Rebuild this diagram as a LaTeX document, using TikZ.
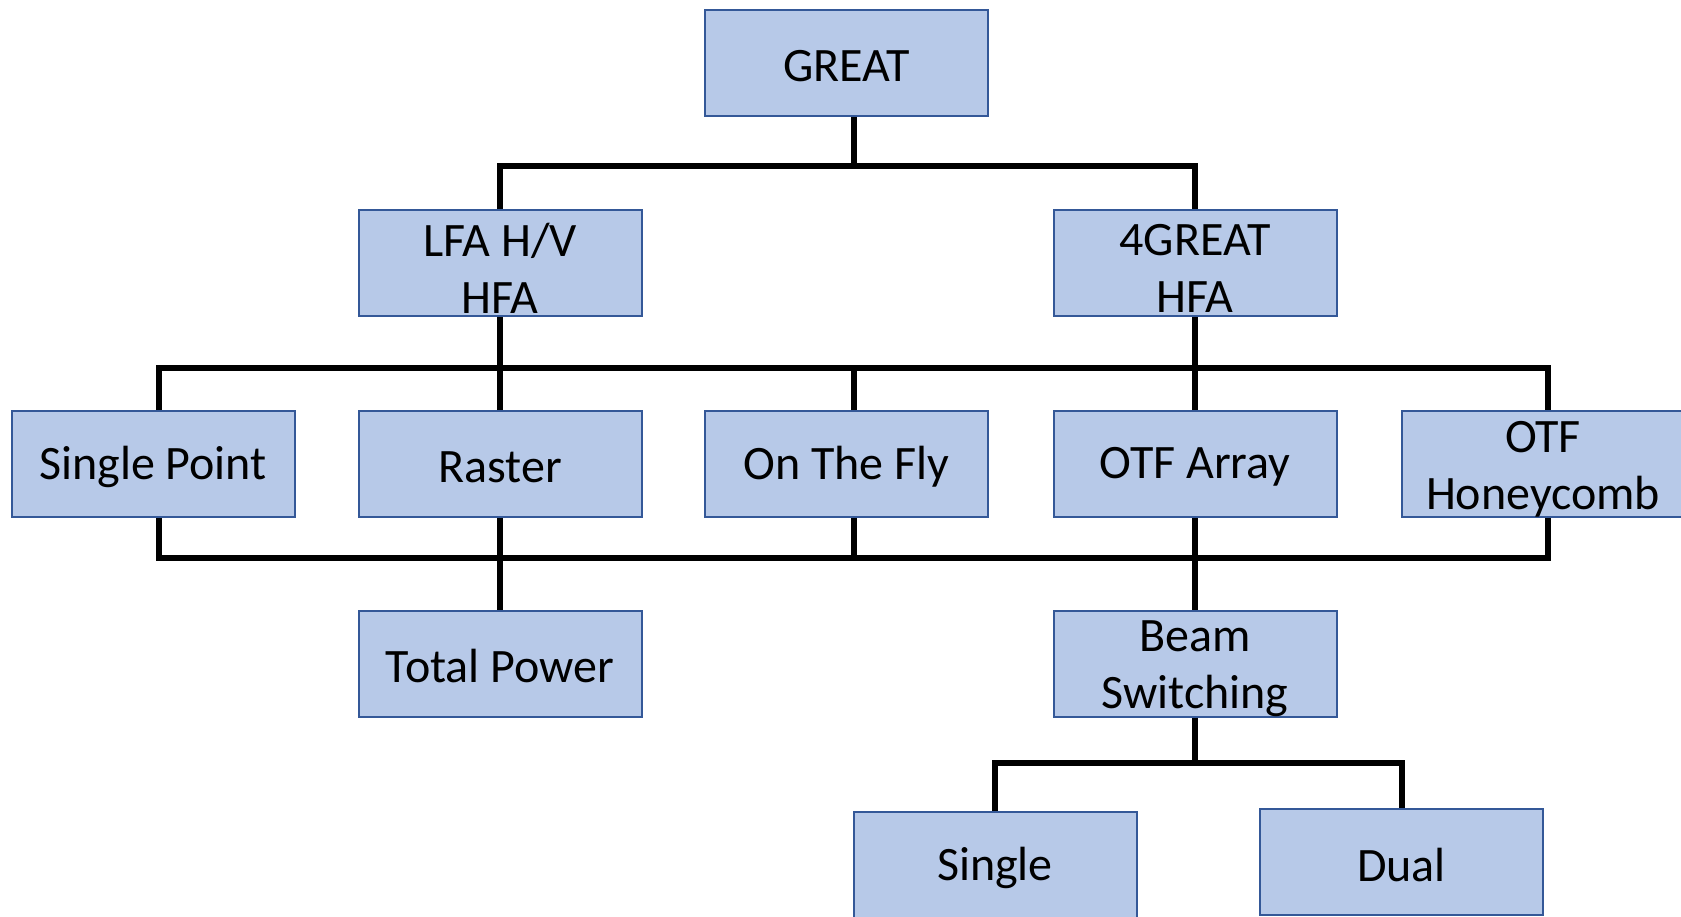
\documentclass[tikz,border=0pt]{standalone}
\usepackage{fontspec}
\setmainfont{Carlito}
\definecolor{boxfill}{RGB}{183,201,232}
\definecolor{boxline}{RGB}{52,88,152}
\tikzset{
  mybox/.style={draw=boxline, fill=boxfill, line width=2pt, minimum width=283pt, minimum height=106pt,
    inner sep=0pt},
  txt/.style={label={[font=\fontsize{48}{57}\selectfont, text=black, align=center, inner sep=0pt, yshift=-3pt]center:#1}},
  txttwo/.style={label={[font=\fontsize{48}{57}\selectfont, text=black, align=center, inner sep=0pt, yshift=-5.5pt]center:#1}},
  conn/.style={draw=black, line width=6pt}
}
\begin{document}
\begin{tikzpicture}[x=1pt,y=-1pt]
\useasboundingbox (0,0) rectangle (1681,916);
\clip (0,0) rectangle (1681,916);
% nodes
\node[mybox, txt={GREAT}] (great) at (846.5,63) {};
\node[mybox, txttwo={LFA H/V\\HFA}] (lfa) at (500,263) {};
\node[mybox, txttwo={4GREAT\\HFA}] (g4) at (1195,263) {};
\node[mybox, txt={Single Point}] (sp) at (153,464) {};
\node[mybox, txt={Raster}] (raster) at (500,464) {};
\node[mybox, txt={On The Fly}] (otf) at (846.5,464) {};
\node[mybox, txt={OTF Array}] (arr) at (1195,464) {};
\node[mybox, txttwo={OTF\\Honeycomb}] (hc) at (1543,464) {};
\node[mybox, txt={Total Power}] (tp) at (500,663.5) {};
\node[mybox, txttwo={Beam\\Switching}] (bs) at (1195,663.5) {};
\node[mybox, txt={Single}] (single) at (995,865) {};
\node[mybox, txt={Dual}] (dual) at (1401.5,862) {};
% bus coordinates
\coordinate (b1) at (854,166);
\coordinate (b2l) at (159,368);
\coordinate (b2m) at (853.5,368);
\coordinate (b2r) at (1548,368);
\coordinate (b3l) at (159,558);
\coordinate (b3m) at (853.5,558);
\coordinate (b3r) at (1548,558);
\coordinate (b4) at (1195,763);
% level 1
\draw[conn] (great.south -| b1) -- (b1);
\draw[conn] (lfa.north) |- (b1) -| (g4.north);
% level 2 bus (top)
\draw[conn] (lfa.south) -- (lfa.south |- b2l);
\draw[conn] (g4.south) -- (g4.south |- b2l);
\draw[conn] (sp.north -| b2l) -- (b2l) -- (b2r) -- (hc.north -| b2r);
\draw[conn] (raster.north) -- (raster.north |- b2l);
\draw[conn] (otf.north -| b2m) -- (b2m);
\draw[conn] (arr.north) -- (arr.north |- b2l);
% level 3 bus (bottom)
\draw[conn] (sp.south -| b3l) -- (b3l) -- (b3r) -- (hc.south -| b3r);
\draw[conn] (raster.south) -- (tp.north);
\draw[conn] (otf.south -| b3m) -- (b3m);
\draw[conn] (arr.south) -- (bs.north);
% level 4
\draw[conn] (bs.south) -- (b4);
\draw[conn] (single.north) |- (b4) -| (dual.north);
\end{tikzpicture}
\end{document}
